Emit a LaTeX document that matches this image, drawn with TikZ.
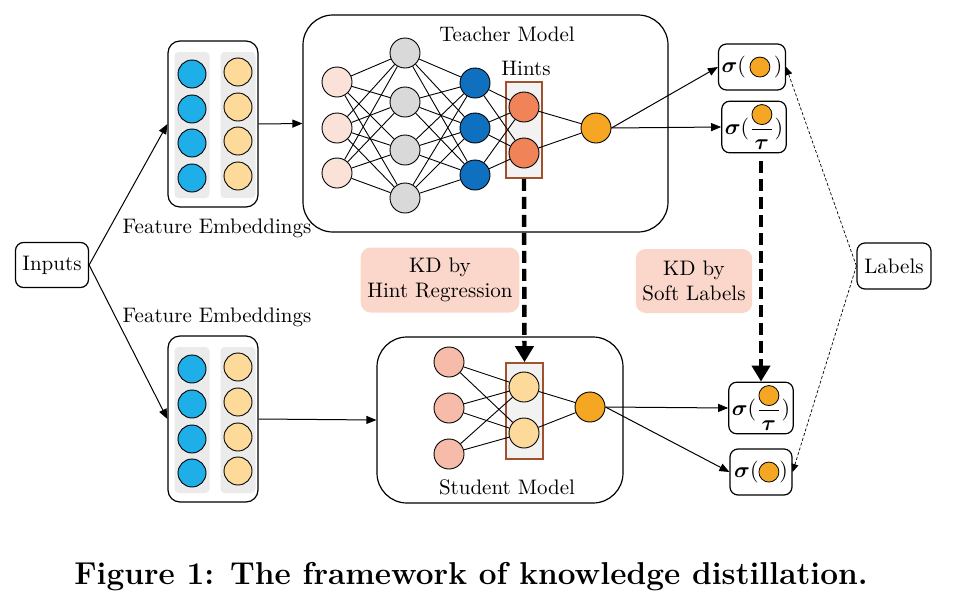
\documentclass[tikz,border=0pt]{standalone}
\usepackage{amsmath, amssymb}
\usepackage{tikz}
\usetikzlibrary{arrows.meta, positioning}
\definecolor{featblue}{HTML}{1EAEE8}
\definecolor{featyellow}{HTML}{FDDA99}
\definecolor{colgrey}{HTML}{EBEBEB}
\definecolor{inpeach}{HTML}{FBE2D8}
\definecolor{hidgrey}{HTML}{D9D9D9}
\definecolor{deepblue}{HTML}{1070C0}
\definecolor{hintorange}{HTML}{F08358}
\definecolor{outorange}{HTML}{F5A623}
\definecolor{salmon}{HTML}{F6BCA9}
\definecolor{hintbrown}{HTML}{A0522D}
\definecolor{kdpink}{HTML}{FAD7CA}
\tikzstyle{link}=[-{Triangle[length=5pt,width=4pt]}, line width=0.5pt]
\tikzstyle{kdlink}=[-{Triangle[length=8pt,width=9pt]}, line width=2.2pt, dash pattern=on 6pt off 3pt]
\tikzstyle{lablink}=[-{Triangle[length=4pt,width=3.5pt]}, line width=0.35pt, dash pattern=on 1.5pt off 1pt]
\newcommand{\outdot}{\tikz[baseline=-0.6ex]\node[circle, draw, line width=0.4pt, fill=outorange, inner sep=0pt, minimum size=10pt]{};}

\begin{document}
\begin{tikzpicture}[x=0.5pt, y=-0.5pt, font=\fontsize{10.5}{12.5}\selectfont,
  box/.style={rectangle, rounded corners=4pt, draw, line width=0.6pt, fill=white,
              align=center, inner sep=1.5pt},
  model/.style={rectangle, rounded corners=15pt, draw, line width=0.6pt, fill=white},
  col/.style={rectangle, rounded corners=2pt, fill=colgrey, minimum width=17.5pt, minimum height=73pt},
  feat/.style={circle, draw, line width=0.45pt, minimum size=14pt, inner sep=0pt},
  neuron/.style={circle, draw, line width=0.45pt, minimum size=15pt, inner sep=0pt},
  hintbox/.style={rectangle, draw=hintbrown, line width=0.8pt, fill=black!5, minimum width=18pt, minimum height=48pt},
  kd/.style={rectangle, rounded corners=5pt, fill=kdpink, align=center},
  wire/.style={line width=0.45pt}
]
\useasboundingbox (0,0) rectangle (970,600);

% Inputs and labels
\node[box, minimum width=36.5pt, minimum height=22.5pt] (inp) at (52,265) {Inputs};
\node[box, minimum width=37pt, minimum height=23pt] (lab) at (894,266) {Labels};

% Feature embeddings, teacher side
\node[model, rounded corners=6pt, minimum width=45pt, minimum height=83pt] (uf) at (213,124) {};
\node[col] (ucl) at (192,125) {};
\node[col] (ucr) at (238,125) {};
\foreach \y [count=\i] in {74,109,143,178} {
  \node[feat, fill=featblue] (ub\i) at (192,\y) {};
  \node[feat, fill=featyellow] (uy\i) at (238,\y-2) {};
}
\node (ulbl) at (217,228) {Feature Embeddings};

% Feature embeddings, student side
\node (llbl) at (217,317) {Feature Embeddings};
\node[model, rounded corners=6pt, minimum width=45pt, minimum height=83pt] (lf) at (213,419) {};
\node[col] (lcl) at (192,420) {};
\node[col] (lcr) at (238,420) {};
\foreach \y [count=\i] in {369,404,439,473} {
  \node[feat, fill=featblue] (lb\i) at (192,\y) {};
  \node[feat, fill=featyellow] (ly\i) at (238,\y-2) {};
}

% Teacher model
\node[model, minimum width=182.5pt, minimum height=108.5pt] (tbox) at (485.5,123.5) {};
\node (tname) at (507,34) {Teacher Model};
\node (hname) at (526,68) {Hints};
\node[hintbox] (thr) at (524,130) {};
\foreach \y [count=\i] in {82,128,173} \node[neuron, fill=inpeach] (ti\i) at (337,\y) {};
\foreach \y [count=\i] in {53,102,150,198} \node[neuron, fill=hidgrey] (tg\i) at (405,\y) {};
\foreach \y [count=\i] in {83,128,175} \node[neuron, fill=deepblue] (tb\i) at (475,\y) {};
\node[neuron, fill=hintorange] (th1) at (524,107) {};
\node[neuron, fill=hintorange] (th2) at (524,153) {};
\node[neuron, fill=outorange] (tout) at (596,128) {};
\foreach \a in {1,2,3} \foreach \b in {1,...,4} \draw[wire] (ti\a) -- (tg\b);
\foreach \a in {1,...,4} \foreach \b in {1,2,3} \draw[wire] (tg\a) -- (tb\b);
\foreach \a in {1,2,3} \foreach \b in {1,2} \draw[wire] (tb\a) -- (th\b);
\draw[wire] (th1) -- (tout);
\draw[wire] (th2) -- (tout);

% Student model
\node[model, minimum width=123pt, minimum height=83pt] (sbox) at (500,420) {};
\node (sname) at (507,487) {Student Model};
\node[hintbox, minimum width=18.5pt] (shr) at (524.5,411) {};
\foreach \y [count=\i] in {362,408,454} \node[neuron, fill=salmon] (si\i) at (449,\y) {};
\node[neuron, fill=featyellow] (sh1) at (524,387) {};
\node[neuron, fill=featyellow] (sh2) at (524,433) {};
\node[neuron, fill=outorange] (sout) at (590,407) {};
\foreach \a in {1,2,3} \foreach \b in {1,2} \draw[wire] (si\a) -- (sh\b);
\draw[wire] (sh1) -- (sout);
\draw[wire] (sh2) -- (sout);

% Softmax outputs
\node[box, minimum width=30.5pt, minimum height=23pt] (s1) at (752,67) {$\boldsymbol{\sigma}(\,\outdot\,)$};
\node[box, minimum width=31pt, minimum height=23pt] (s2) at (754,127) {$\boldsymbol{\sigma}(\dfrac{\outdot}{\boldsymbol{\tau}})$};
\node[box, minimum width=31pt, minimum height=23.5pt] (s3) at (761,408) {$\boldsymbol{\sigma}(\dfrac{\outdot}{\boldsymbol{\tau}})$};
\node[box, minimum width=31pt, minimum height=23pt] (s4) at (761,472) {$\boldsymbol{\sigma}(\outdot)$};

% KD labels
\node[kd, minimum width=73pt, minimum height=32.5pt] (kdhint) at (440,280) {KD by\\Hint Regression};
\node[kd, minimum width=56pt, minimum height=32pt] (kdsoft) at (694,281) {KD by\\Soft Labels};

% Connectors
\draw[link] (inp.east) -- (uf.west);
\draw[link] (inp.east) -- (lf.west);
\draw[link] (uf.east) -- (tbox.west);
\draw[link] (lf.east) -- (sbox.west);
\draw[link] (tout.east) -- (s1.west);
\draw[link] (tout.east) -- (s2.west);
\draw[link] (sout.east) -- (s3.west);
\draw[link] (sout.east) -- (s4.west);
\draw[lablink] (lab.west) -- (s1.east);
\draw[lablink] (lab.west) -- (s4.east);
\draw[kdlink] (thr.south) -- (shr.north);
\draw[kdlink, shorten <=4pt] (s2.south -| s3.north) -- (s3.north);

% Caption
\node[font=\bfseries\fontsize{15.8}{18}\selectfont] (cap) at (471,577) {Figure 1: The framework of knowledge distillation.};
\end{tikzpicture}
\end{document}
